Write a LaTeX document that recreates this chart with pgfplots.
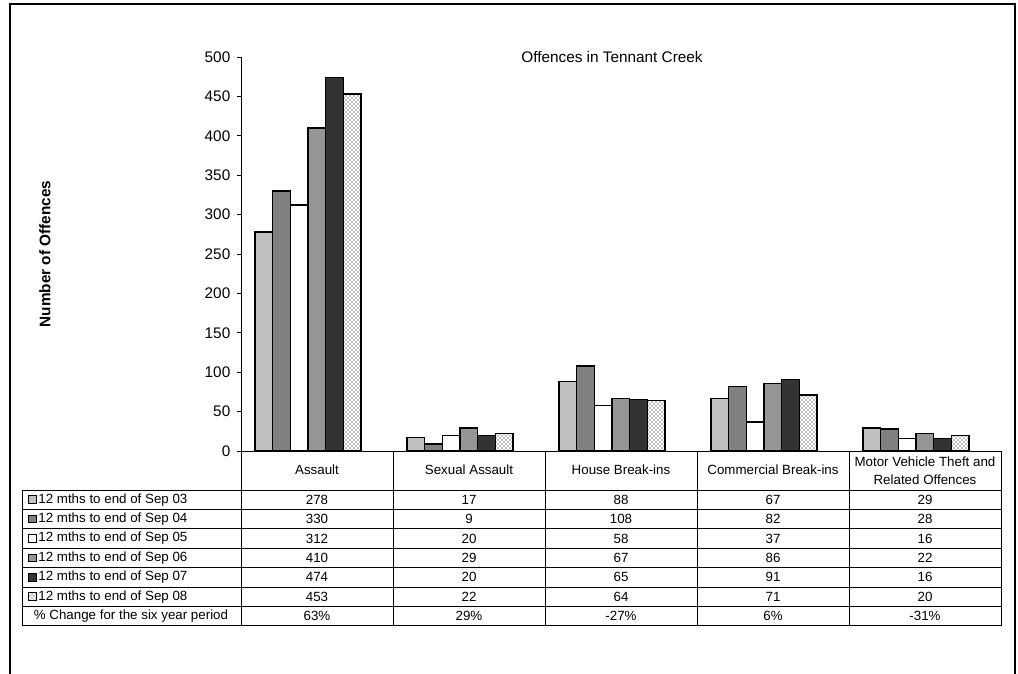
\documentclass[border=0pt]{standalone}
\usepackage{pgfplots}
\pgfplotsset{compat=1.18}
\usepackage{fontspec}
\setmainfont{Liberation Sans}
\usetikzlibrary{patterns}
\definecolor{sA}{HTML}{C0C0C0}
\definecolor{sB}{HTML}{808080}
\definecolor{sC}{HTML}{FFFFFF}
\definecolor{sD}{HTML}{969696}
\definecolor{sE}{HTML}{333333}
\pgfplotstableread{
x s03 s04 s05 s06 s07 s08
0 278 330 312 410 474 453
1 17 9 20 29 20 22
2 88 108 58 67 65 64
3 67 82 37 86 91 71
4 29 28 16 22 16 20
}\datatable
\begin{document}
\begin{tikzpicture}[x=0.75pt,y=0.75pt]
\useasboundingbox (0,0) rectangle (1018,674);
% outer frame
\draw[line width=1.5pt] (10,-5) -- (10,670) -- (1015,670) -- (1015,-5);
\begin{axis}[
  at={(180.75pt,167.25pt)}, anchor=south west,
  width=570pt, height=295.5pt, scale only axis,
  xmin=-0.5, xmax=4.5, ymin=0, ymax=500,
  ytick={0,50,...,500},
  xtick=\empty,
  axis x line*=bottom, axis y line*=left,
  axis line style={-, black, line width=0.6pt},
  tick align=outside, major tick length=3pt,
  tick style={black, line width=0.6pt},
  yticklabel style={font=\fontsize{11.5}{13}\selectfont, xshift=-1.5pt},
  /pgf/number format/assume math mode=true,
  ybar, bar width=13.3pt,
  every axis plot/.append style={draw=black, line width=1pt},
  clip=false,
]
\addplot[fill=sA, bar shift=-39.94pt] table[x=x,y=s03]{\datatable};
\addplot[fill=sB, bar shift=-26.66pt] table[x=x,y=s04]{\datatable};
\addplot[fill=sC, bar shift=-13.39pt] table[x=x,y=s05]{\datatable};
\addplot[fill=sD, bar shift=-0.11pt] table[x=x,y=s06]{\datatable};
\addplot[fill=sE, bar shift=13.16pt] table[x=x,y=s07]{\datatable};
\addplot[fill=white, postaction={pattern=crosshatch dots, pattern color=black}, bar shift=26.44pt] table[x=x,y=s08]{\datatable};
\end{axis}
% title and y label
\node[font=\fontsize{11.5}{13}\selectfont] at (612,617) {Offences in Tennant Creek};
\node[font=\bfseries\fontsize{11.5}{13}\selectfont, rotate=90] at (45,420) {Number of Offences};
% data table
\begin{scope}[font=\fontsize{10}{13.5}\selectfont, line width=0.6pt]
\draw (22,184) -- (1001,184);
\foreach \k in {1,...,7} { \draw (22,{184-19.4*\k}) -- (1001,{184-19.4*\k}); }
\draw (22,184) -- (22,{184-19.4*7});
\foreach \x in {241,393,545,697,849,1001} { \draw (\x,223) -- (\x,{184-19.4*7}); }
\node at (317,204) {Assault};
\node at (469,204) {Sexual Assault};
\node at (621,204) {House Break-ins};
\node at (773,204) {Commercial Break-ins};
\node[align=center] at (925,203.5) {Motor Vehicle Theft and\\Related Offences};
% legend keys and labels
\foreach \lab/\col [count=\i from 0] in {03/sA,04/sB,05/sC,06/sD,07/sE} {
  \pgfmathsetmacro{\yc}{184-19.4*(\i+0.5)}
  \draw[fill=\col, line width=0.6pt] (28.5,\yc-3.8) rectangle (36,\yc+3.8);
  \node[anchor=west, inner sep=0pt] at (38,\yc) {12 mths to end of Sep \lab};
}
\pgfmathsetmacro{\yc}{184-19.4*5.5}
\draw[fill=white, line width=0.6pt, postaction={pattern=crosshatch dots, pattern color=black}] (28.5,\yc-3.8) rectangle (36,\yc+3.8);
\node[anchor=west, inner sep=0pt] at (38,\yc) {12 mths to end of Sep 08};
\pgfmathsetmacro{\yc}{184-19.4*6.5}
\node at (131,\yc) {\% Change for the six year period};
% values
\foreach \row [count=\i from 0] in {
  {278,17,88,67,29},
  {330,9,108,82,28},
  {312,20,58,37,16},
  {410,29,67,86,22},
  {474,20,65,91,16},
  {453,22,64,71,20},
  {63\%,29\%,-27\%,6\%,-31\%}} {
  \pgfmathsetmacro{\yc}{184-19.4*(\i+0.5)}
  \foreach \v [count=\j from 0] in \row {
    \node at ({317+152*\j},\yc) {\v};
  }
}
\end{scope}
\end{tikzpicture}
\end{document}
